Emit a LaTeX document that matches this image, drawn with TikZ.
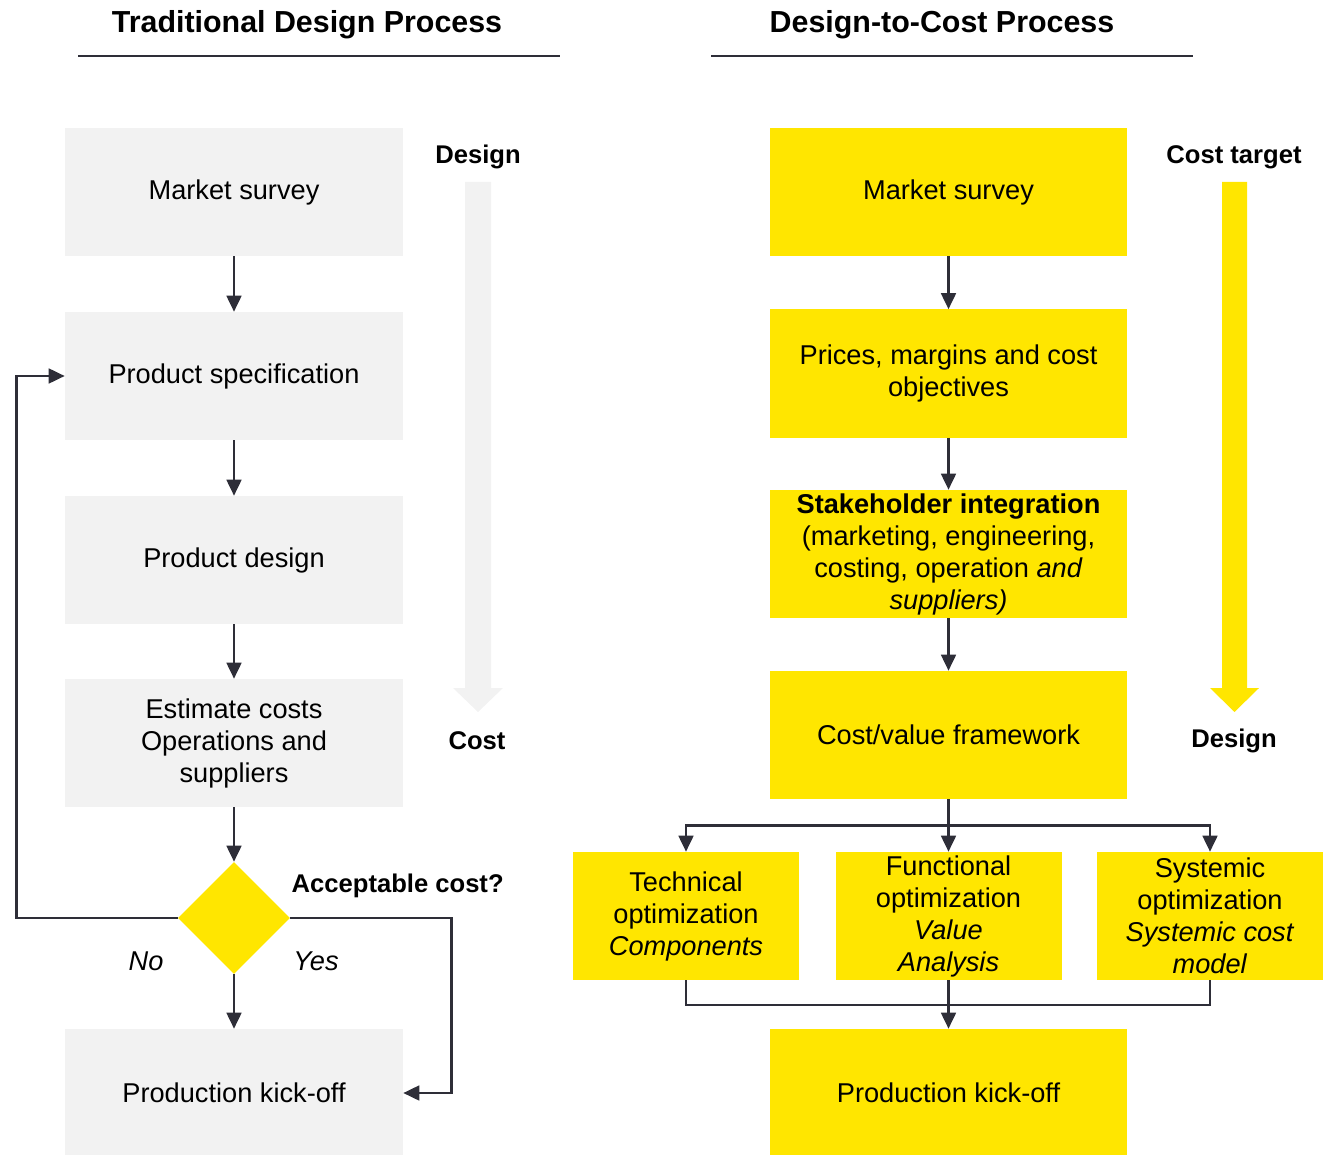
\documentclass[tikz,border=0pt]{standalone}
\usepackage{fontspec}
\setmainfont{Liberation Sans}
\usepackage{tikz}
\usetikzlibrary{arrows.meta}
\usetikzlibrary{shapes.geometric, positioning, calc}
\usepackage{xcolor}

\definecolor{eygray}{HTML}{F2F2F2}
\definecolor{eyyellow}{HTML}{FFE600}
\definecolor{eydark}{HTML}{2E2E38}

\tikzset{
    txt/.style={font=\fontsize{20.4}{24}\selectfont, align=center, text=black},
    greybox/.style={txt, fill=eygray, minimum width=253.5pt, minimum height=96pt, inner sep=0pt},
    yellowbox/.style={txt, fill=eyyellow, minimum width=267.75pt, minimum height=96pt, inner sep=0pt},
    smallbox/.style={txt, fill=eyyellow, minimum width=169.5pt, minimum height=96pt, inner sep=0pt},
    decision/.style={diamond, fill=eyyellow, minimum width=84pt, minimum height=84pt, inner sep=0pt},
    conn/.style={eydark, line width=2pt},
    title/.style={font=\fontsize{22.8}{26}\selectfont\bfseries},
    tag/.style={font=\fontsize{19.2}{24}\selectfont\bfseries}
}

\begin{document}
\begin{tikzpicture}[x=0.75pt, y=-0.75pt, >={Triangle[width=11pt, length=12pt]}]
    \useasboundingbox (0,0) rectangle (1327,1155);

    % titles
    \node[title] (ttrad) at (307,25) {Traditional Design Process};
    \node[title] (tdtc) at (942,25) {Design-to-Cost Process};
    \draw[eydark, line width=1.5pt] (78,56) -- (560,56);
    \draw[eydark, line width=1.5pt] (711,56) -- (1193,56);

    % traditional process
    \node[greybox] (market) at (234,192) {Market survey};
    \node[greybox] (spec) at (234,376) {Product specification};
    \node[greybox] (design) at (234,560) {Product design};
    \node[greybox] (estimate) at (234,743) {Estimate costs\\Operations and\\suppliers};
    \node[decision] (dec) at (234,918) {};
    \node[greybox] (kick) at (234,1093) {Production kick-off};

    \node[tag, anchor=west] (acc) at (287,886) {Acceptable cost?};
    \node[txt, font=\fontsize{20.4}{24}\selectfont\itshape] (no) at (146,961) {No};
    \node[txt, font=\fontsize{20.4}{24}\selectfont\itshape] (yes) at (316,961) {Yes};

    \draw[conn, ->] (market) -- (spec);
    \draw[conn, ->] (spec) -- (design);
    \draw[conn, ->] (design) -- (estimate);
    \draw[conn, ->] (estimate) -- (dec);
    \draw[conn, ->] (dec) -- (kick);
    \draw[conn, ->] (dec.west) -- ++(-161,0) |- (spec.west);
    \draw[conn, ->] (dec.east) -- ++(161,0) |- (kick.east);

    \node[tag] (ldesign) at (478,157) {Design};
    \node[tag] (lcost) at (477,741) {Cost};
    \fill[eygray] (465,182) -- (491,182) -- (491,688) -- (503,688) -- (478,712)
        -- (453,688) -- (465,688) -- cycle;

    % design-to-cost process
    \node[yellowbox] (market2) at (948.5,192) {Market survey};
    \node[yellowbox] (prices) at (948.5,373.5) {Prices, margins and cost\\objectives};
    \node[yellowbox] (stake) at (948.5,554) {\textbf{Stakeholder integration}\\(marketing, engineering,\\costing, operation \textit{and}\\\textit{suppliers)}};
    \node[yellowbox] (frame) at (948.5,735) {Cost/value framework};
    \node[smallbox] (tech) at (686,916) {Technical\\optimization\\\textit{Components}};
    \node[smallbox] (func) at (948.5,916) {Functional\\optimization\\\textit{Value}\\\textit{Analysis}};
    \node[smallbox] (sys) at (1210,916) {Systemic\\optimization\\\textit{Systemic cost}\\\textit{model}};
    \node[yellowbox] (kick2) at (948.5,1093) {Production kick-off};

    \draw[conn, ->] (market2) -- (prices);
    \draw[conn, ->] (prices) -- (stake);
    \draw[conn, ->] (stake) -- (frame);
    \draw[conn] (frame.south) -- ++(0,26) coordinate (split);
    \draw[conn, ->] (split) -| (tech.north);
    \draw[conn, ->] (split) -| (sys.north);
    \draw[conn, ->] (split) -- (func.north);
    \coordinate (merge) at (948.5,1005);
    \draw[conn] (tech.south) |- (merge);
    \draw[conn] (sys.south) |- (merge);
    \draw[conn, ->] (func.south) -- (kick2.north);

    \node[tag] (ltarget) at (1234,157) {Cost target};
    \node[tag] (ldesign2) at (1234,741) {Design};
    \fill[eyyellow] (1222,182) -- (1247,182) -- (1247,688) -- (1259,688) -- (1234.5,712)
        -- (1210,688) -- (1222,688) -- cycle;
\end{tikzpicture}
\end{document}
